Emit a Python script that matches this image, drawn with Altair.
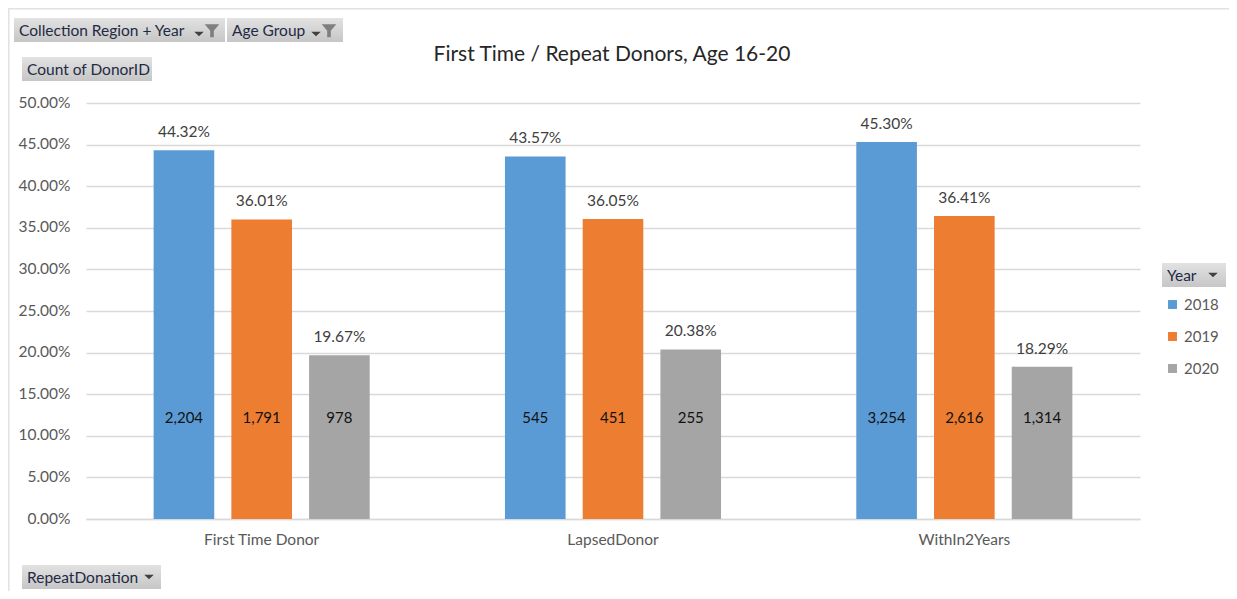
import altair as alt
import pandas as pd

FONT = "Lato"
GREY = "#595959"

categories = ["First Time Donor", "LapsedDonor", "WithIn2Years"]
years = ["2018", "2019", "2020"]
colors = ["#5b9bd5", "#ed7d31", "#a5a5a5"]
shares = [
    [0.4432, 0.3601, 0.1967],
    [0.4357, 0.3605, 0.2038],
    [0.4530, 0.3641, 0.1829],
]
counts = [
    [2204, 1791, 978],
    [545, 451, 255],
    [3254, 2616, 1314],
]
y_ticks = [0, 0.05, 0.10, 0.15, 0.20, 0.25, 0.30, 0.35, 0.40, 0.45, 0.50]
title_text = "First Time / Repeat Donors, Age 16-20"

rows = []
for c, s_row, n_row in zip(categories, shares, counts):
    for yr, s, n in zip(years, s_row, n_row):
        rows.append({"cat": c, "year": yr, "share": s, "count": n})
df = pd.DataFrame(rows)

W, H = 1054, 416
LEFT, TOP = 78, 95
TOTAL_W, TOTAL_H = 1221, 583

x = alt.X("cat:N", sort=categories, title=None,
          scale=alt.Scale(paddingInner=0, paddingOuter=0),
          axis=alt.Axis(labelAngle=0, ticks=False, domainColor="#d9d9d9",
                        domainWidth=1.5, labelColor=GREY, labelFont=FONT,
                        labelFontSize=15.5, labelPadding=13, grid=False))
xoff = alt.XOffset("year:N", sort=years,
                   scale=alt.Scale(paddingInner=0.22, paddingOuter=0.87))
y = alt.Y("share:Q", title=None,
          scale=alt.Scale(domain=[0, 0.5], nice=False),
          axis=alt.Axis(values=y_ticks, format=".2%", ticks=False, domain=False,
                        gridColor="#d9d9d9", gridWidth=1.5, labelColor=GREY,
                        labelFont=FONT, labelFontSize=15.5, labelPadding=16,
                        labelOffset=-1))
color = alt.Color("year:N", sort=years,
                  scale=alt.Scale(domain=years, range=colors),
                  legend=alt.Legend(orient="none", legendX=1079, legendY=194,
                                    title=None, symbolType="square", symbolSize=80,
                                    symbolStrokeWidth=0, labelFont=FONT,
                                    labelFontSize=15, labelColor=GREY,
                                    rowPadding=16, labelOffset=4))

base = alt.Chart(df)
bars = base.mark_bar().encode(x=x, xOffset=xoff, y=y, color=color)
tops = base.mark_text(font=FONT, fontSize=15.5, color="#404040", dy=-18).encode(
    x=x, xOffset=xoff, y=y, text=alt.Text("share:Q", format=".2%"))
inner = base.mark_text(font=FONT, fontSize=15, color="#111111").encode(
    x=x, xOffset=xoff, y=alt.value(315), text=alt.Text("count:Q", format=","))


# Pivot-table field buttons and page decoration, placed in page pixels.
def px(v):
    return alt.value(v - 8 - LEFT)


def py(v):
    return alt.value(v - 8 - TOP)


chip_fill = alt.Gradient(gradient="linear", x1=0, x2=0, y1=0, y2=1,
                         stops=[alt.GradientStop(offset=0, color="#e2e2e2"),
                                alt.GradientStop(offset=1, color="#c6c6c6")])
one = pd.DataFrame({"a": [0]})


def chip(x0, x1, y0, y1, label, tx):
    rect = alt.Chart(one).mark_rect(color=chip_fill).encode(
        x=px(x0), x2=px(x1), y=py(y0), y2=py(y1))
    text = alt.Chart(pd.DataFrame({"t": [label]})).mark_text(
        font=FONT, fontSize=15.5, color="#1f2a44", align="left", baseline="middle"
    ).encode(x=px(tx), y=py((y0 + y1) / 2 + 1), text="t:N")
    return rect + text


ARROW = "M-1,-0.45 L1,-0.45 L0,0.45 Z"
FUNNEL = "M-1,-0.8 L1,-0.8 L0.25,0.1 L0.25,1 L-0.25,1 L-0.25,0.1 Z"


def arrow(cx, cy):
    return alt.Chart(one).mark_point(shape=ARROW, filled=True, size=90,
                                     color="#404040", opacity=1).encode(
        x=px(cx), y=py(cy))


def funnel(cx, cy):
    return alt.Chart(one).mark_point(shape=FUNNEL, filled=True, size=210,
                                     color="#7f7f7f", opacity=1).encode(
        x=px(cx), y=py(cy))


frame = (
    alt.Chart(one).mark_rule(color="#e2e2e2", strokeWidth=2).encode(
        x=px(8), x2=px(1229), y=py(8.5))
    + alt.Chart(one).mark_rule(color="#e2e2e2", strokeWidth=2).encode(
        x=px(8.5), y=py(8), y2=py(591))
)

title = alt.Chart(pd.DataFrame({"t": [title_text]})).mark_text(
    font=FONT, fontSize=21, color="#262626", baseline="middle"
).encode(x=px(612), y=py(55), text="t:N")

decor = (
    chip(14, 225, 18, 42, "Collection Region + Year", 19)
    + chip(227, 343, 18, 42, "Age Group", 232)
    + chip(22, 152, 57, 81, "Count of DonorID", 27)
    + chip(22, 161, 565, 589, "RepeatDonation", 27)
    + chip(1162, 1226, 263, 287, "Year", 1167)
    + arrow(199, 34) + arrow(316, 34) + arrow(1213, 275) + arrow(149, 577)
    + funnel(212, 30) + funnel(329, 30)
)

chart = alt.layer(bars, tops, inner, frame, title, decor).properties(
    width=W, height=H,
    background="white",
    autosize=alt.AutoSizeParams(type="none"),
    padding={"left": LEFT, "top": TOP,
             "right": TOTAL_W - LEFT - W, "bottom": TOTAL_H - TOP - H},
).configure_view(strokeWidth=0)

chart.save("out.html", embed_options={"renderer": "svg", "actions": False})
